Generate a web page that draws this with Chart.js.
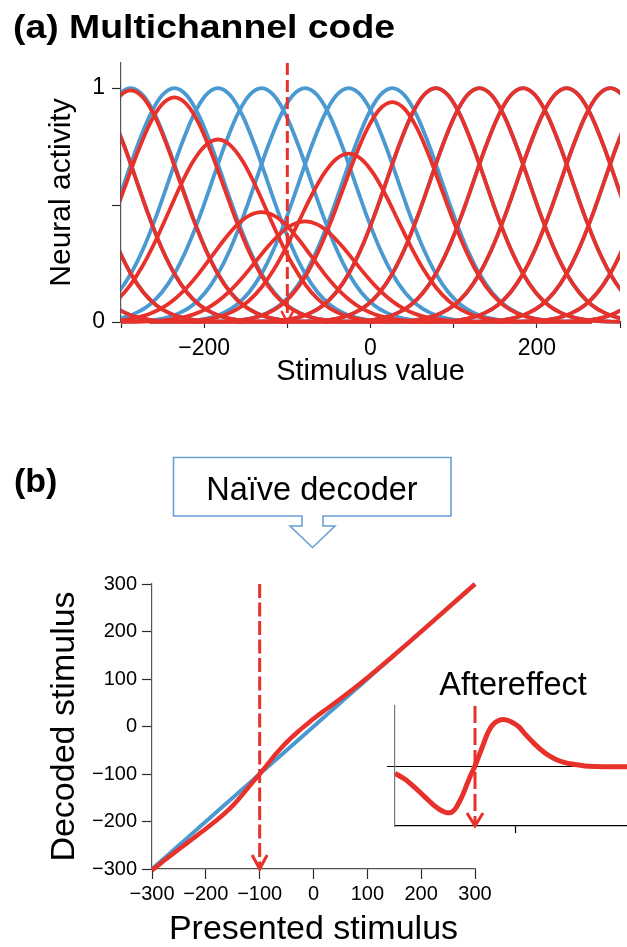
<!DOCTYPE html>
<html>
<head>
<meta charset="utf-8">
<script src="https://cdn.jsdelivr.net/npm/chart.js@4.4.0/dist/chart.umd.min.js"></script>
<style>
  html, body { margin: 0; padding: 0; background: #fff; }
  body { position: relative; width: 627px; height: 947px; overflow: hidden; }
  canvas { position: absolute; }
  #chartA { left: 0; top: 0; }
  #chartB { left: 0; top: 440px; }
  #inset { left: 380px; top: 650px; }
  #notes { position: absolute; left: 0; top: 0; pointer-events: none; font-family: "Liberation Sans", Arial, Helvetica, sans-serif; }
</style>
</head>
<body>
<canvas id="chartA" width="627" height="400"></canvas>
<canvas id="chartB" width="627" height="507"></canvas>
<canvas id="inset" width="260" height="190"></canvas>
<svg id="notes" width="627" height="947">
  <text x="13" y="37.7" font-size="32.5" font-weight="bold" textLength="382" lengthAdjust="spacingAndGlyphs">(a) Multichannel code</text>
  <text x="14" y="492" font-size="34" font-weight="bold">(b)</text>
  <path d="M173.5 457.5 H451 V516 H323 V526 H335 L312.5 547.5 L290 526 H302 V516 H173.5 Z" fill="#fff" stroke="#6a9fd6" stroke-width="1.6"/>
  <text x="312" y="500" font-size="32.5" text-anchor="middle">Naïve decoder</text>
  <text x="513" y="695" font-size="32.5" text-anchor="middle">Aftereffect</text>
</svg>
<script>
// (a) channel tuning curves
const channelCenters = [-445.4, -393, -340.6, -288.2, -235.8, -183.4, -131, -78.6, -26.2,
  26.2, 78.6, 131, 183.4, 235.8, 288.2, 340.6, 393, 445.4];
const adaptedGain = [1, 1, 1, 0.99, 0.96, 0.78, 0.47, 0.43, 0.72,
  0.94, 1, 1, 1, 1, 1, 1, 1, 1];
const tuningOffsets = [-240, -225, -210, -195, -180, -165, -150, -135, -120, -105, -90, -75, -60,
  -45, -30, -15, 0, 15, 30, 45, 60, 75, 90, 105, 120, 135, 150, 165, 180, 195, 210, 225, 240];
const tuningProfile = [0.0003, 0.0007, 0.0018, 0.004, 0.0095, 0.02, 0.04, 0.073, 0.126, 0.205, 0.312, 0.445, 0.596,
  0.748, 0.879, 0.968, 1, 0.968, 0.879, 0.748, 0.596, 0.445, 0.312, 0.205, 0.126, 0.073, 0.04, 0.02, 0.0095, 0.004, 0.0018, 0.0007, 0.0003];
const adapterValue = -100;

// (b) decoder output
const presented = [-300, -275, -250, -225, -200, -190, -180, -170, -160, -150, -140, -130, -120, -110,
  -100, -90, -80, -70, -60, -50, -40, -30, -20, -10, 0, 10, 25, 50, 75, 100, 125, 150, 175, 200, 250, 300];
const aftereffect = [-2.8, -5.1, -8.3, -11.9, -15.4, -16.5, -17.4, -17.9, -17.8, -16.6, -14, -10.8, -7, -3.3,
  0, 4, 8, 12, 14.9, 16.6, 17.5, 17.8, 17.6, 17, 16.1, 15, 12.3, 8.3, 5, 2.7, 1.3, 0.6, 0, -0.2, -0.3, -0.3];

const RED = "#e8312a";
const BLUE = "#4a99d0";
const AXIS = "#2a2a2a";
Chart.defaults.font.family = '"Liberation Sans", Arial, Helvetica, sans-serif';
Chart.defaults.color = "#000";

const fmt = (v) => (v < 0 ? "\u2212" + Math.abs(v) : String(v));

// dashed adapter line with an open arrowhead at the bottom
const adapterArrow = {
  id: "adapterArrow",
  afterDatasetsDraw(chart, args, opts) {
    const { ctx, chartArea, scales } = chart;
    const px = scales.x.getPixelForValue(adapterValue);
    const top = chartArea.top;
    const bottom = chartArea.bottom;
    ctx.save();
    ctx.strokeStyle = RED;
    ctx.lineWidth = opts.width;
    ctx.setLineDash(opts.dash);
    ctx.beginPath();
    ctx.moveTo(px, top);
    ctx.lineTo(px, bottom - 2);
    ctx.stroke();
    ctx.setLineDash([]);
    ctx.lineWidth = opts.headWidth;
    ctx.beginPath();
    ctx.moveTo(px - opts.headW, bottom - opts.headH);
    ctx.lineTo(px, bottom);
    ctx.lineTo(px + opts.headW, bottom - opts.headH);
    ctx.stroke();
    ctx.restore();
  },
};

const curve = (center, gain) =>
  tuningOffsets.map((d, i) => ({ x: center + d, y: gain * tuningProfile[i] }));

const blueSets = channelCenters.map((c) => ({
  data: curve(c, 1),
  borderColor: BLUE,
  borderWidth: 3.8,
  order: 2,
}));
const redSets = channelCenters.map((c, i) => ({
  data: curve(c, adaptedGain[i]),
  borderColor: RED,
  borderWidth: 3.8,
  order: 1,
}));

new Chart(document.getElementById("chartA"), {
  type: "line",
  data: { datasets: [...blueSets, ...redSets] },
  plugins: [adapterArrow],
  options: {
    responsive: false,
    animation: false,
    devicePixelRatio: 1,
    layout: { padding: { top: 63, right: 3, left: 0, bottom: 0 } },
    datasets: { line: { clip: { left: 0, right: 0, top: 6, bottom: 4 } } },
    elements: {
      point: { radius: 0 },
      line: { cubicInterpolationMode: "monotone", fill: false },
    },
    plugins: {
      legend: { display: false },
      tooltip: { enabled: false },
      adapterArrow: { dash: [12, 5], width: 3, headWidth: 2.5, headW: 6, headH: 11 },
    },
    scales: {
      x: {
        type: "linear",
        min: -300,
        max: 300,
        afterFit: (s) => { s.height = 78; },
        ticks: {
          stepSize: 100,
          autoSkip: false,
          maxRotation: 0,
          padding: 7,
          font: { size: 23 },
          callback: (v) => ([-200, 0, 200].includes(v) ? fmt(v) : ""),
        },
        grid: { drawOnChartArea: false, tickLength: 6, tickColor: AXIS, tickWidth: 1.2 },
        border: { color: AXIS, width: 1.2 },
        title: {
          display: true,
          text: "Stimulus value",
          font: { size: 29 },
          padding: { top: 0, bottom: 11 },
        },
      },
      y: {
        min: 0,
        max: 1.107,
        afterBuildTicks: (s) => { s.ticks = [0, 0.5, 1].map((v) => ({ value: v })); },
        afterFit: (s) => { s.width = 121; },
        ticks: {
          padding: 7,
          font: { size: 23 },
          callback: (v) => (v === 0 || v === 1 ? String(v) : ""),
        },
        grid: { drawOnChartArea: false, tickLength: 9, tickColor: AXIS, tickWidth: 1.2 },
        border: { color: "#555", width: 1.2 },
        title: {
          display: true,
          text: "Neural activity",
          font: { size: 30 },
          padding: { top: 44, bottom: 0 },
        },
      },
    },
  },
});

new Chart(document.getElementById("chartB"), {
  type: "line",
  data: {
    datasets: [
      {
        data: presented.map((p) => ({ x: p, y: p })),
        borderColor: BLUE,
        borderWidth: 4,
        order: 2,
      },
      {
        data: presented.map((p, i) => ({ x: p, y: p + aftereffect[i] })),
        borderColor: RED,
        borderWidth: 4.5,
        order: 1,
      },
    ],
  },
  plugins: [adapterArrow],
  options: {
    responsive: false,
    animation: false,
    devicePixelRatio: 1,
    layout: { padding: { top: 144, right: 152, left: 0, bottom: 0 } },
    datasets: { line: { clip: 4 } },
    elements: {
      point: { radius: 0 },
      line: { cubicInterpolationMode: "monotone", fill: false },
    },
    plugins: {
      legend: { display: false },
      tooltip: { enabled: false },
      adapterArrow: { dash: [14, 4.5], width: 3, headWidth: 3, headW: 7.5, headH: 14 },
    },
    scales: {
      x: {
        type: "linear",
        min: -300,
        max: 300,
        afterFit: (s) => { s.height = 78; },
        ticks: { stepSize: 100, autoSkip: false, maxRotation: 0, padding: 3, font: { size: 20 }, callback: fmt },
        grid: { drawOnChartArea: false, tickLength: 10, tickColor: AXIS, tickWidth: 1.2 },
        border: { color: "#555", width: 1.2 },
        title: {
          display: true,
          text: "Presented stimulus",
          font: { size: 34, lineHeight: 1 },
          padding: { top: 0, bottom: 0 },
        },
      },
      y: {
        min: -300,
        max: 300,
        afterFit: (s) => { s.width = 152; },
        ticks: { stepSize: 100, autoSkip: false, padding: 5, font: { size: 20 }, callback: fmt },
        grid: { drawOnChartArea: false, tickLength: 10, tickColor: AXIS, tickWidth: 1.2 },
        border: { color: "#555", width: 1.2 },
        title: {
          display: true,
          text: "Decoded stimulus",
          font: { size: 34 },
          padding: { top: 44, bottom: 0 },
        },
      },
    },
  },
});

new Chart(document.getElementById("inset"), {
  type: "line",
  data: {
    datasets: [
      {
        data: presented.map((p, i) => ({ x: p, y: aftereffect[i] })),
        borderColor: RED,
        borderWidth: 5,
      },
    ],
  },
  plugins: [adapterArrow],
  options: {
    responsive: false,
    animation: false,
    devicePixelRatio: 1,
    layout: { padding: { top: 56, right: 5, left: 0, bottom: 0 } },
    datasets: { line: { clip: { left: 0, right: 0, top: 5, bottom: 5 } } },
    elements: {
      point: { radius: 0 },
      line: { cubicInterpolationMode: "monotone", fill: false },
    },
    plugins: {
      legend: { display: false },
      tooltip: { enabled: false },
      adapterArrow: { dash: [17, 5], width: 3, headWidth: 3, headW: 8, headH: 13 },
    },
    scales: {
      x: {
        type: "linear",
        min: -300,
        max: 300,
        afterBuildTicks: (s) => { s.ticks = [{ value: 0 }]; },
        afterFit: (s) => { s.height = 14; },
        ticks: { callback: () => "" },
        grid: { drawOnChartArea: false, tickLength: 7, tickColor: "#000", tickWidth: 1.2 },
        border: { color: "#000", width: 1.2 },
      },
      y: {
        min: -23,
        max: 23,
        afterBuildTicks: (s) => { s.ticks = [{ value: 0 }]; },
        afterFit: (s) => { s.width = 15; },
        ticks: { callback: () => "" },
        grid: { drawOnChartArea: true, tickLength: 8, color: "#000", tickColor: "#000", lineWidth: 1 },
        border: { color: "#777", width: 1.2 },
      },
    },
  },
});
</script>
</body>
</html>
